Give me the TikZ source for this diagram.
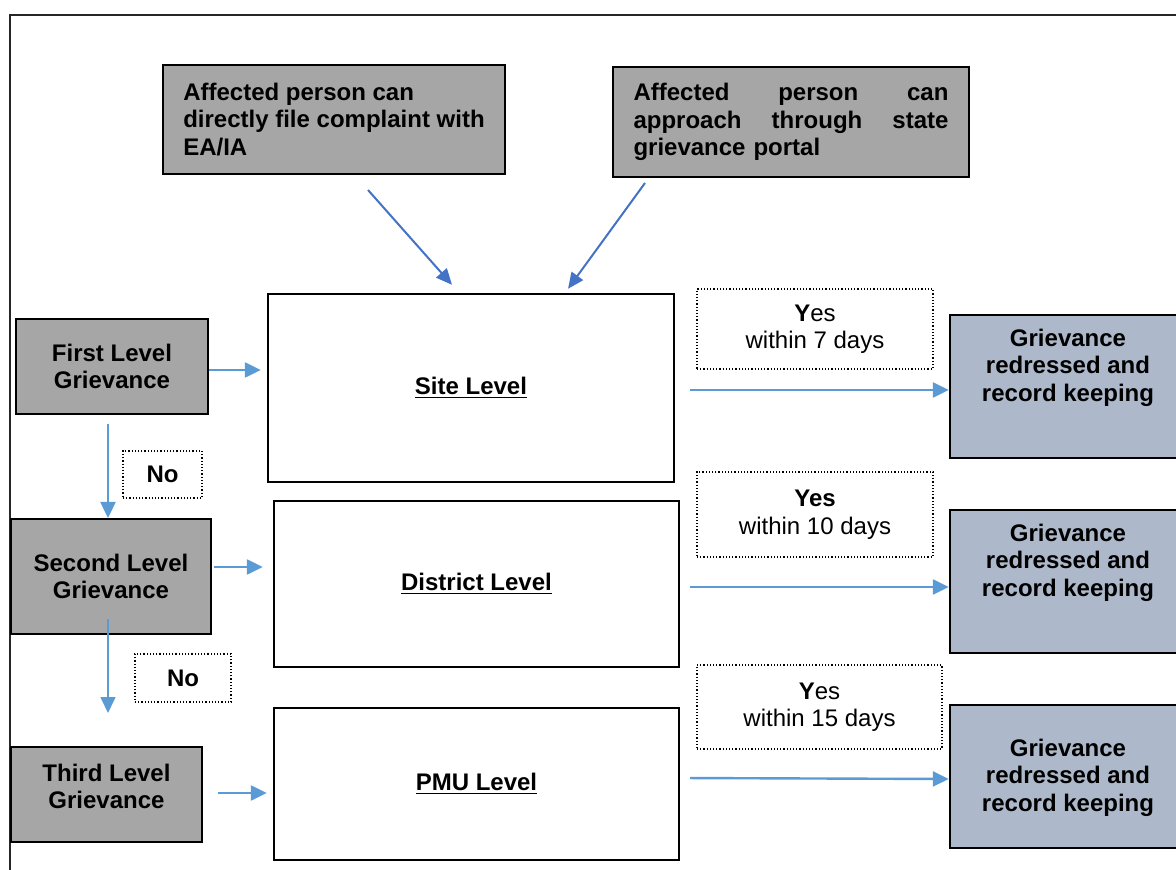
\documentclass[tikz,border=0pt]{standalone}
\usepackage{fontspec}
\setmainfont{Liberation Sans}
\usetikzlibrary{arrows.meta}

\definecolor{boxgrey}{HTML}{A6A6A6}
\definecolor{resblue}{HTML}{ADB9CA}
\definecolor{feedblue}{HTML}{4472C4}
\definecolor{flowblue}{HTML}{5B9BD5}
\newcommand{\gfont}{\fontsize{12}{13.75}\selectfont}

\tikzset{
  greybox/.style={draw, line width=1pt, fill=boxgrey, font=\gfont\bfseries, align=center},
  boxtext/.style={font=\gfont\bfseries, align=center, inner sep=0pt},
  levelbox/.style={draw, line width=1.2pt, fill=white, font=\gfont\bfseries},
  resbox/.style={draw, line width=1.2pt, fill=resblue, minimum width=115pt, minimum height=71.5pt},
  notebox/.style={draw, densely dotted, line width=0.6pt, font=\gfont, align=center},
  feed/.style={draw=feedblue, line width=1pt, -{Triangle[length=8pt,width=7pt]}},
  flow/.style={draw=flowblue, line width=1.2pt, -{Triangle[length=8pt,width=7.5pt]}}
}

\begin{document}
\begin{tikzpicture}[x=0.5pt, y=-0.5pt]
    \useasboundingbox (0,0) rectangle (1176,870);
    \clip (0,0) rectangle (1176,870);
    \draw[line width=1pt, black!85] (10,15) rectangle (1190,890);

    % entry points
    \node[greybox, align=left, minimum width=171pt, minimum height=54.5pt] (direct) at (334,119.5) {Affected person can\\directly file complaint with\\EA/IA};
    \node[greybox, align=left, text width=157.5pt, inner xsep=10.25pt, minimum height=55pt] (portal) at (791,122) {Affected\hfill person\hfill can\\approach\hfill through\hfill state\\grievance portal};

    % grievance levels
    \node[greybox, minimum width=96pt, minimum height=47.5pt] (first) at (112,366.5) {First Level\\Grievance};
    \node[greybox, minimum width=100pt, minimum height=57.5pt] (second) at (111,576.5) {Second Level\\Grievance};
    \node[greybox, minimum width=95.5pt, minimum height=47.5pt] (third) at (106.5,794.5) {};
    \node[boxtext] (thirdtext) at (106.5,786.5) {Third Level\\Grievance};

    \node[levelbox, minimum width=203pt, minimum height=94pt] (site) at (471,388) {\underline{Site Level}};
    \node[levelbox, minimum width=202.5pt, minimum height=83pt] (district) at (476.5,584) {\underline{District Level}};
    \node[levelbox, minimum width=202.5pt, minimum height=76pt] (pmu) at (476.5,784) {\underline{PMU Level}};

    % outcomes
    \node[resbox] (res1) at (1065,386.5) {};
    \node[boxtext] (res1text) at (1068,367.5) {Grievance\\redressed and\\record keeping};
    \node[resbox] (res2) at (1065,581.5) {};
    \node[boxtext] (res2text) at (1068,562.5) {Grievance\\redressed and\\record keeping};
    \node[resbox] (res3) at (1065,776.5) {};
    \node[boxtext] (res3text) at (1068,777.5) {Grievance\\redressed and\\record keeping};

    \node[notebox, minimum width=118pt, minimum height=40pt] (yes1) at (815,329) {\textbf{Y}es\\within 7 days};
    \node[notebox, minimum width=118pt, minimum height=42.5pt] (yes2) at (815,514.5) {\textbf{Yes}\\within 10 days};
    \node[notebox, minimum width=122.5pt, minimum height=42pt] (yes3) at (819.5,707) {\textbf{Y}es\\within 15 days};
    \node[notebox, minimum width=39.5pt, minimum height=23.5pt] (no1) at (162.5,474.5) {\textbf{No}};
    \node[notebox, minimum width=48pt, minimum height=24pt] (no2) at (183,678) {\textbf{No}};

    \draw[feed] ([xshift=17pt,yshift=-7.5pt]direct.south) -- ([xshift=-9.5pt,yshift=4pt]site.north);
    \draw[feed] ([xshift=16.5pt,yshift=-2.5pt]portal.south west) -- ([xshift=48.5pt,yshift=2pt]site.north);

    \draw[flow, shorten >=3pt] ([yshift=-1.75pt]first.east) -- ([yshift=9pt]site.west);
    \draw[flow, shorten <=1pt, shorten >=5pt] ([yshift=4.75pt]second.east) -- ([yshift=8.5pt]district.west);
    \draw[flow, shorten <=7.5pt, shorten >=3pt] ([yshift=0.75pt]third.east) -- ([yshift=-4.5pt]pmu.west);

    \draw[flow, shorten <=4.5pt] ([xshift=-2pt]first.south) -- ([xshift=-1.5pt]second.north);
    \draw[flow, line width=0.8pt] ([xshift=-1.5pt,yshift=8pt]second.south) -- ([xshift=0.75pt,yshift=16.5pt]third.north);

    \draw[flow, shorten <=7.5pt] ([yshift=-1pt]site.east) -- ([yshift=-1.75pt]res1.west);
    \draw[flow, shorten <=5pt] ([yshift=-1.5pt]district.east) -- ([yshift=-2.75pt]res2.west);
    \draw[flow, shorten <=5pt] ([yshift=3pt]pmu.east) -- ([yshift=-1.25pt]res3.west);
\end{tikzpicture}
\end{document}
